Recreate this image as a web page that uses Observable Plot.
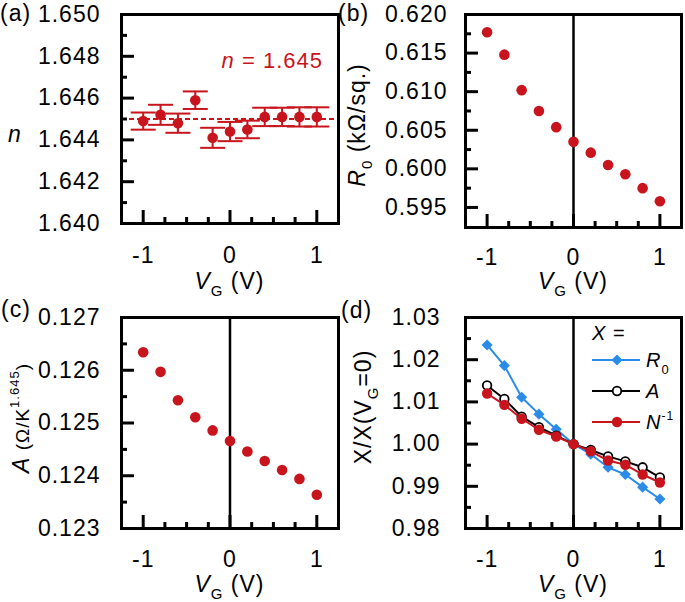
<!DOCTYPE html>
<html><head><meta charset="utf-8">
<script src="https://cdn.jsdelivr.net/npm/d3@7"></script>
<script src="https://cdn.jsdelivr.net/npm/@observablehq/plot@0.6"></script>
<style>
body{margin:0;background:#fff;}
#wrap{position:relative;width:685px;height:602px;overflow:hidden;background:#fff;}
#wrap > svg{position:absolute;}
</style></head><body><div id="wrap"></div>
<script>
// ---------- data ----------
const vg = [-1, -0.8, -0.6, -0.4, -0.2, 0, 0.2, 0.4, 0.6, 0.8, 1];
const nVals = [1.6449, 1.6452, 1.6448, 1.6459, 1.6441, 1.6444, 1.6445, 1.6451, 1.6451, 1.6451, 1.6451];
const nErr = [0.00041, 0.00048, 0.00046, 0.00042, 0.00048, 0.00046, 0.00042, 0.00044, 0.00044, 0.00046, 0.00046];
const nFit = 1.645;
const r0Vals = [0.6177, 0.6148, 0.6102, 0.6075, 0.6054, 0.6035, 0.6021, 0.6005, 0.5993, 0.5975, 0.5958];
const aVals = [0.12634, 0.12597, 0.12543, 0.12511, 0.12486, 0.12466, 0.12446, 0.12428, 0.12411, 0.12394, 0.12364];
const normR0 = [1.0235, 1.0186, 1.0111, 1.0071, 1.0035, 1.0000, 0.9976, 0.9945, 0.9928, 0.9898, 0.9870];
const normA = [1.0139, 1.0107, 1.0065, 1.0040, 1.0020, 1.0000, 0.9986, 0.9971, 0.9959, 0.9945, 0.9921];
const normNinv = [1.0120, 1.0093, 1.0060, 1.0034, 1.0018, 1.0000, 0.9983, 0.9961, 0.9951, 0.9928, 0.9909];

const xTickLabels = [-1, 0, 1];
const xMinorTicks = [-0.75, -0.5, -0.25, 0.25, 0.5, 0.75];
const nTickLabels = [1.640, 1.642, 1.644, 1.646, 1.648, 1.650];
const nMinorTicks = [1.641, 1.643, 1.645, 1.647, 1.649];
const r0TickLabels = [0.595, 0.600, 0.605, 0.610, 0.615, 0.620];
const r0MinorTicks = [0.5975, 0.6025, 0.6075, 0.6125, 0.6175];
const aTickLabels = [0.123, 0.124, 0.125, 0.126, 0.127];
const aMinorTicks = [0.1235, 0.1245, 0.1255, 0.1265];
const dTickLabels = [0.98, 0.99, 1.00, 1.01, 1.02, 1.03];
const dMinorTicks = [0.985, 0.995, 1.005, 1.015, 1.025];

// ---------- style ----------
const RED = "#c8141c";
const BLUE = "#2a8ce8";
const FONT = '"Liberation Sans", Arial, sans-serif';

const nRows = vg.map((x, i) => ({vg: x, n: nVals[i], lo: nVals[i] - nErr[i], hi: nVals[i] + nErr[i]}));
const r0Rows = vg.map((x, i) => ({vg: x, v: r0Vals[i]}));
const aRows = vg.map((x, i) => ({vg: x, v: aVals[i]}));
const seriesNames = ["R0", "A", "Ninv"];
const seriesVals = [normR0, normA, normNinv];
const dRows = seriesNames.flatMap((s, k) => vg.map((x, i) => ({series: s, vg: x, v: seriesVals[k][i]})));

const capSymbol = {draw(ctx, size) { const w = Math.sqrt(size / Math.PI); ctx.moveTo(-w, 0); ctx.lineTo(w, 0); }};

const wrap = document.getElementById("wrap");

function panel(cfg) {
  const fw = cfg.width - cfg.ml - cfg.mr;
  const fh = cfg.height - cfg.mt - cfg.mb;
  const svg = Plot.plot({
    width: cfg.width, height: cfg.height,
    marginLeft: cfg.ml, marginRight: cfg.mr, marginTop: cfg.mt, marginBottom: cfg.mb,
    style: {background: "none", fontFamily: FONT, fontSize: "23px", letterSpacing: "1px", overflow: "visible", color: "black"},
    x: {domain: [-1.25, 1.25]},
    y: {domain: cfg.yDomain},
    marks: [
      ...cfg.marks,
      Plot.tickX(xTickLabels, {x: d => d, insetTop: fh - 13, stroke: "black", strokeWidth: 3}),
      Plot.tickX(xMinorTicks, {x: d => d, insetTop: fh - 6, stroke: "black", strokeWidth: 3}),
      Plot.tickY(cfg.yLabels, {y: d => d, insetRight: fw - 13, stroke: "black", strokeWidth: 3}),
      Plot.tickY(cfg.yMinor, {y: d => d, insetRight: fw - 6, stroke: "black", strokeWidth: 3}),
      Plot.frame({stroke: "black", strokeWidth: 3}),
      Plot.axisX(xTickLabels, {tickSize: 0, tickPadding: cfg.xPad, tickFormat: d => String(d), label: null, fill: "black"}),
      Plot.axisY(cfg.yLabels, {tickSize: 0, tickPadding: cfg.yPad, tickFormat: d3.format(cfg.yFmt), label: null, fill: "black"})
    ]
  });
  svg.style.left = cfg.left + "px";
  svg.style.top = cfg.top + "px";
  wrap.appendChild(svg);
}

// (a)
panel({left: 0, top: 0, width: 342, height: 300, ml: 121, mr: 4, mt: 14, mb: 77,
  yDomain: [1.640, 1.650], yLabels: nTickLabels, yMinor: nMinorTicks, yFmt: ".3f", yPad: 21, xPad: 23,
  marks: [
    Plot.ruleY([nFit], {stroke: RED, strokeWidth: 2, strokeDasharray: "5,3"}),
    Plot.ruleX(nRows, {x: "vg", y1: "lo", y2: "hi", stroke: RED, strokeWidth: 2}),
    Plot.dot(nRows, {x: "vg", y: "hi", symbol: capSymbol, r: 12.5, stroke: RED, strokeWidth: 2, fill: "none"}),
    Plot.dot(nRows, {x: "vg", y: "lo", symbol: capSymbol, r: 12.5, stroke: RED, strokeWidth: 2, fill: "none"}),
    Plot.dot(nRows, {x: "vg", y: "n", r: 5.3, fill: RED})
  ]});

// (b)
panel({left: 342, top: 0, width: 343, height: 300, ml: 123, mr: 4, mt: 14, mb: 73,
  yDomain: [0.5924, 0.620], yLabels: r0TickLabels, yMinor: r0MinorTicks, yFmt: ".3f", yPad: 18, xPad: 21,
  marks: [
    Plot.ruleX([0], {stroke: "black", strokeWidth: 2.5}),
    Plot.dot(r0Rows, {x: "vg", y: "v", r: 5.3, fill: RED})
  ]});

// (c)
panel({left: 0, top: 300, width: 342, height: 302, ml: 121, mr: 4, mt: 17, mb: 74,
  yDomain: [0.123, 0.127], yLabels: aTickLabels, yMinor: aMinorTicks, yFmt: ".3f", yPad: 21, xPad: 22,
  marks: [
    Plot.ruleX([0], {stroke: "black", strokeWidth: 2.5}),
    Plot.dot(aRows, {x: "vg", y: "v", r: 5.3, fill: RED})
  ]});

// (d)
panel({left: 342, top: 300, width: 343, height: 302, ml: 123, mr: 4, mt: 17, mb: 74,
  yDomain: [0.98, 1.03], yLabels: dTickLabels, yMinor: dMinorTicks, yFmt: ".2f", yPad: 25, xPad: 22,
  marks: [
    Plot.ruleX([0], {stroke: "black", strokeWidth: 2.5}),
    Plot.line(dRows.filter(d => d.series === "R0"), {x: "vg", y: "v", stroke: BLUE, strokeWidth: 2}),
    Plot.dot(dRows.filter(d => d.series === "R0"), {x: "vg", y: "v", symbol: "diamond2", r: 5, fill: BLUE}),
    Plot.line(dRows.filter(d => d.series === "A"), {x: "vg", y: "v", stroke: "black", strokeWidth: 2}),
    Plot.dot(dRows.filter(d => d.series === "A"), {x: "vg", y: "v", r: 4.3, fill: "white", stroke: "black", strokeWidth: 1.8}),
    Plot.line(dRows.filter(d => d.series === "Ninv"), {x: "vg", y: "v", stroke: RED, strokeWidth: 2}),
    Plot.dot(dRows.filter(d => d.series === "Ninv"), {x: "vg", y: "v", r: 5.2, fill: RED})
  ]});

// ---------- overlay text ----------
const ov = d3.select(wrap).append("svg")
  .attr("width", 685).attr("height", 602)
  .style("left", "0px").style("top", "0px")
  .style("font-family", FONT).style("font-size", "23px").style("letter-spacing", "1px");

// panel letters
[["(a)", 0, 21], ["(b)", 338, 21], ["(c)", 1, 317], ["(d)", 341, 318]].forEach(([t, x, y]) =>
  ov.append("text").attr("x", x).attr("y", y).text(t));

// x axis titles
[[229.5, 289], [573, 289], [229.5, 592], [573, 592]].forEach(([x, y]) => {
  const t = ov.append("text").attr("x", x).attr("y", y).attr("text-anchor", "middle");
  t.append("tspan").attr("font-style", "italic").text("V");
  t.append("tspan").attr("font-size", "15px").attr("dy", 7).text("G");
  t.append("tspan").attr("dy", -7).text(" (V)");
});

// (a) y title
ov.append("text").attr("x", 8).attr("y", 142).attr("font-style", "italic").text("n");

// (a) annotation
{
  const t = ov.append("text").attr("x", 323).attr("y", 68).attr("text-anchor", "end")
    .attr("fill", RED).style("font-size", "22px");
  t.append("tspan").attr("font-style", "italic").text("n");
  t.append("tspan").text(" = 1.645");
}

// (b) y title
{
  const t = ov.append("text").attr("transform", "translate(365,125) rotate(-90)").attr("text-anchor", "middle");
  t.append("tspan").attr("font-style", "italic").text("R");
  t.append("tspan").attr("font-size", "15px").attr("dy", 7).text("0");
  t.append("tspan").attr("dy", -7).text(" (kΩ/sq.)");
}

// (c) y title
{
  const t = ov.append("text").attr("transform", "translate(29,418) rotate(-90)").attr("text-anchor", "middle");
  t.append("tspan").attr("font-style", "italic").text("A");
  t.append("tspan").attr("font-size", "19px").text(" (Ω/K");
  t.append("tspan").attr("font-size", "13px").attr("dy", -10).text("1.645");
  t.append("tspan").attr("font-size", "19px").attr("dy", 10).text(")");
}

// (d) y title
{
  const t = ov.append("text").attr("transform", "translate(371,407) rotate(-90)").attr("text-anchor", "middle");
  t.append("tspan").text("X/X(V");
  t.append("tspan").attr("font-size", "15px").attr("dy", 7).text("G");
  t.append("tspan").attr("dy", -7).text("=0)");
}

// (d) legend
{
  const lg = ov.append("g").style("font-size", "20px");
  const hx = lg.append("text").attr("x", 592).attr("y", 340);
  hx.append("tspan").attr("font-style", "italic").text("X");
  hx.append("tspan").text(" =");
  const rows = [
    {y: 360, color: BLUE, key: "R0"},
    {y: 391, color: "black", key: "A"},
    {y: 422, color: RED, key: "Ninv"}
  ];
  rows.forEach(r => {
    lg.append("line").attr("x1", 592).attr("x2", 640).attr("y1", r.y).attr("y2", r.y)
      .attr("stroke", r.color).attr("stroke-width", 2);
    if (r.key === "R0") {
      lg.append("path").attr("d", d3.symbol(d3.symbolDiamond2, Math.PI * 25)()).attr("transform", `translate(617,${r.y})`).attr("fill", BLUE);
    } else if (r.key === "A") {
      lg.append("circle").attr("cx", 617).attr("cy", r.y).attr("r", 4.3).attr("fill", "white").attr("stroke", "black").attr("stroke-width", 1.8);
    } else {
      lg.append("circle").attr("cx", 617).attr("cy", r.y).attr("r", 5.2).attr("fill", RED);
    }
    const t = lg.append("text").attr("x", 646).attr("y", r.y + 7);
    if (r.key === "R0") {
      t.append("tspan").attr("font-style", "italic").text("R");
      t.append("tspan").attr("font-size", "13px").attr("dy", 7).text("0");
    } else if (r.key === "A") {
      t.append("tspan").attr("font-style", "italic").text("A");
    } else {
      t.append("tspan").attr("font-style", "italic").text("N");
      t.append("tspan").attr("font-size", "12px").attr("dy", -9).text("-1");
    }
  });
}
</script>
</body></html>
